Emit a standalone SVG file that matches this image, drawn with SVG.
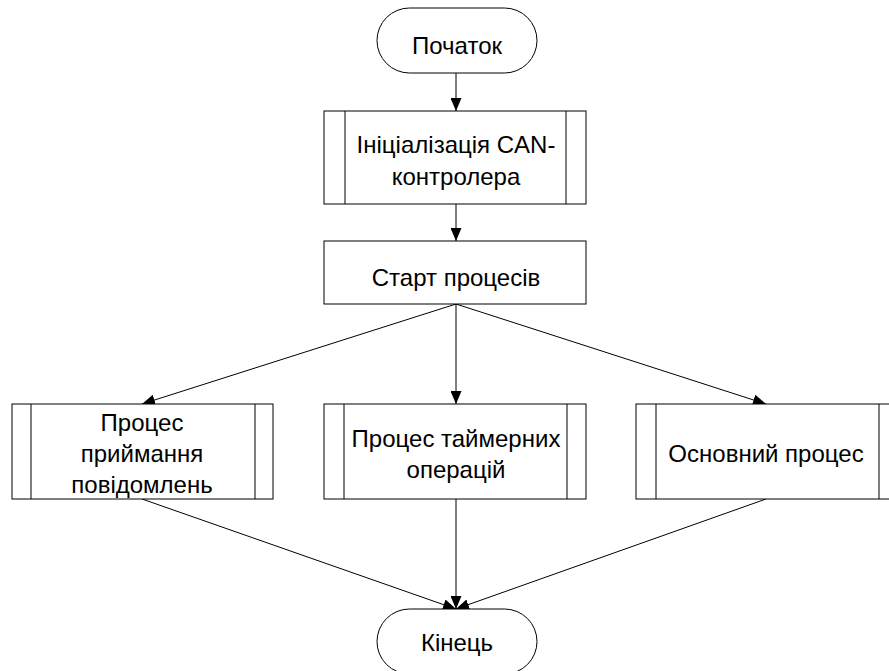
<svg xmlns="http://www.w3.org/2000/svg" width="889" height="671" viewBox="0 0 889 671">
  <style>
    .shape { fill: #ffffff; stroke: #000000; stroke-width: 1; }
    .edge { fill: none; stroke: #000000; stroke-width: 1; marker-end: url(#arrow); }
    text { font-family: "Liberation Sans", Arial, sans-serif; font-size: 24px; fill: #000000; text-anchor: middle; }
  </style>
  <defs>
    <marker id="arrow" viewBox="0 0 13 11" refX="13" refY="5.5" markerWidth="13" markerHeight="11" markerUnits="userSpaceOnUse" orient="auto">
      <path d="M0,0 L13,5.5 L0,11 Z" fill="#000000"/>
    </marker>
  </defs>
  <rect width="889" height="671" fill="#ffffff"/>

  <g id="connectors">
    <line class="edge" x1="456" y1="73" x2="456" y2="111"/>
    <line class="edge" x1="456" y1="204" x2="456" y2="241"/>
    <line class="edge" x1="456" y1="304" x2="142" y2="404"/>
    <line class="edge" x1="456" y1="304" x2="456" y2="404"/>
    <line class="edge" x1="456" y1="304" x2="766" y2="404"/>
    <line class="edge" x1="142" y1="499" x2="456" y2="609"/>
    <line class="edge" x1="456" y1="499" x2="456" y2="609"/>
    <line class="edge" x1="766" y1="499" x2="456" y2="609"/>
  </g>

  <g id="start">
    <rect class="shape" x="377" y="8" width="160" height="65" rx="32.5" ry="32.5"/>
    <text x="457" y="54">Початок</text>
  </g>

  <g id="init-can">
    <rect class="shape" x="324" y="111" width="262" height="93"/>
    <line class="shape" x1="345" y1="111" x2="345" y2="204"/>
    <line class="shape" x1="566" y1="111" x2="566" y2="204"/>
    <text x="456" y="153">Ініціалізація CAN-</text>
    <text x="456" y="185">контролера</text>
  </g>

  <g id="start-processes">
    <rect class="shape" x="324" y="241" width="262" height="63"/>
    <text x="456" y="286">Старт процесів</text>
  </g>

  <g id="receive-process">
    <rect class="shape" x="12" y="404" width="261" height="95"/>
    <line class="shape" x1="31" y1="404" x2="31" y2="499"/>
    <line class="shape" x1="255" y1="404" x2="255" y2="499"/>
    <text x="142" y="431">Процес</text>
    <text x="142" y="462">приймання</text>
    <text x="142" y="493">повідомлень</text>
  </g>

  <g id="timer-process">
    <rect class="shape" x="324" y="404" width="262" height="95"/>
    <line class="shape" x1="344" y1="404" x2="344" y2="499"/>
    <line class="shape" x1="567" y1="404" x2="567" y2="499"/>
    <text x="456" y="447">Процес таймерних</text>
    <text x="456" y="478">операцій</text>
  </g>

  <g id="main-process">
    <rect class="shape" x="636" y="404" width="261" height="95"/>
    <line class="shape" x1="656" y1="404" x2="656" y2="499"/>
    <line class="shape" x1="879" y1="404" x2="879" y2="499"/>
    <text x="766" y="462">Основний процес</text>
  </g>

  <g id="end">
    <rect class="shape" x="377" y="609" width="160" height="65" rx="32.5" ry="32.5"/>
    <text x="457" y="651">Кінець</text>
  </g>
</svg>
